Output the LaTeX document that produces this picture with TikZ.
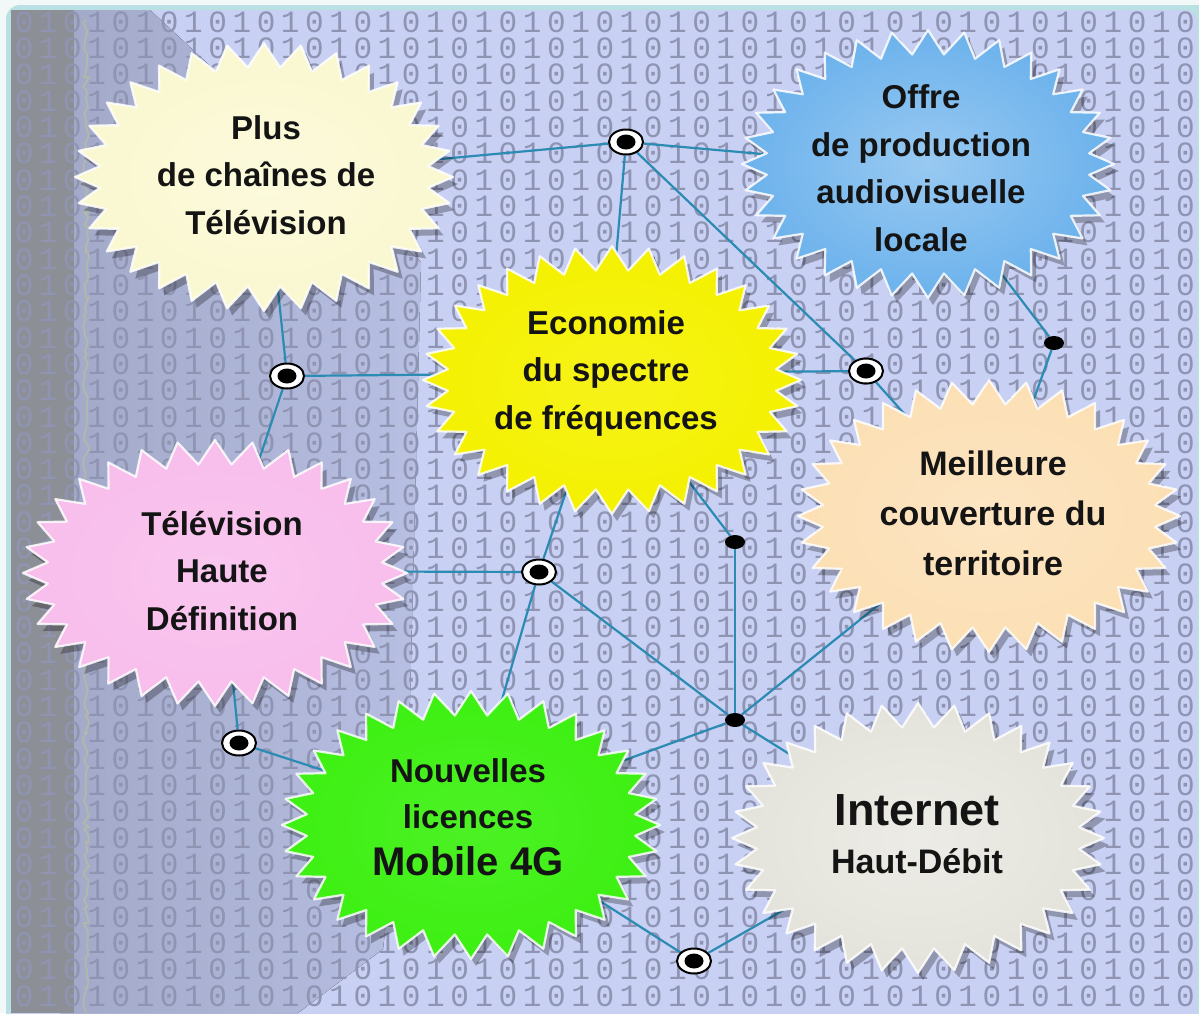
\documentclass[tikz,border=0pt]{standalone}
\usepackage{fontspec}
\setmainfont{Liberation Sans}
\newfontfamily\labfont{Liberation Sans Bold}
\newfontfamily\digfont{Liberation Mono}
\usetikzlibrary{shapes.geometric,decorations.pathmorphing}
\pgfdeclarelayer{back}
\pgfdeclarelayer{links}
\pgfdeclarelayer{bursts}
\pgfsetlayers{back,links,bursts,main}

\definecolor{cOuter}{HTML}{F2F8F8}
\definecolor{cFrame}{HTML}{B9E0E3}
\definecolor{cLav}{HTML}{C8D0F3}
\definecolor{cDarkL}{HTML}{A2A9C8}
\definecolor{cDarkR}{HTML}{B7BFE3}
\definecolor{cBand}{HTML}{8D8F97}
\definecolor{cSquig}{HTML}{C9CC7A}
\definecolor{cDig}{HTML}{8F94B2}
\definecolor{cLink}{HTML}{2C8BB3}
\definecolor{cCream}{HTML}{FAF8D0}
\definecolor{cSky}{HTML}{6CB2EC}
\definecolor{cYel}{HTML}{F5F100}
\definecolor{cPeach}{HTML}{FCDFB4}
\definecolor{cPink}{HTML}{F8BDEC}
\definecolor{cLime}{HTML}{3DF012}
\definecolor{cPearl}{HTML}{E4E3DB}
\definecolor{cInk}{HTML}{141414}

\newcommand\dpair{\makebox[24.2pt]{1}\makebox[24.2pt]{0}}
\newcommand\drow{\makebox[24.2pt]{0}\dpair\dpair\dpair\dpair\dpair\dpair\dpair\dpair\dpair\dpair\dpair\dpair\dpair\dpair\dpair\dpair\dpair\dpair\dpair\dpair\dpair\dpair\dpair\dpair}

\newcommand\burst[6]{%
  \fill[black,opacity=.28,shift={(5,7)}] plot[domain=0:63,samples=64,variable=\t]
    ({#1+(#3-24*mod(round(\t),2))*cos(\t*5.625)},{#2+(#4-24*mod(round(\t),2))*sin(\t*5.625)}) -- cycle;
  \shade[inner color=#5!#6!white,outer color=#5] plot[domain=0:63,samples=64,variable=\t]
    ({#1+(#3-24*mod(round(\t),2))*cos(\t*5.625)},{#2+(#4-24*mod(round(\t),2))*sin(\t*5.625)}) -- cycle;
  \draw[white,opacity=.85,line width=2.2pt,line join=round] plot[domain=0:63,samples=64,variable=\t]
    ({#1+(#3-24*mod(round(\t),2))*cos(\t*5.625)},{#2+(#4-24*mod(round(\t),2))*sin(\t*5.625)}) -- cycle;
}

\begin{document}
\begin{tikzpicture}[x=1pt,y=-1pt,
  lab/.style={ellipse,inner sep=0pt,align=center,text=cInk,
    font=\labfont\fontsize{33}{47.5}\selectfont,minimum width=318pt,minimum height=208pt},
  tgt/.style={ellipse,draw=black,line width=2pt,fill=white,minimum width=34pt,minimum height=25pt,inner sep=0pt,
    path picture={\fill[black] (path picture bounding box.center) ellipse [x radius=9.5pt,y radius=7.5pt];}},
  blob/.style={ellipse,fill=black,minimum width=20pt,minimum height=14pt,inner sep=0pt},
  wire/.style={draw=cLink,line width=2.2pt},
  digrow/.style={inner sep=0pt,text=cDig,font=\digfont\fontsize{31}{31}\selectfont,anchor=east}]
\useasboundingbox (0,0) rectangle (1199,1013);

\begin{pgfonlayer}{back}
  \fill[cOuter] (0,0) rectangle (1199,1013);
  \fill[cFrame,rounded corners=14pt] (6,5) rectangle (1212,1040);
  \fill[cLav,rounded corners=12pt] (11,10) rectangle (1197,1040);
  \fill[left color=cDarkL,right color=cDarkR] (60,10) -- (150,10) -- (421,262) -- (410,700) -- (383,949) -- (298,1013) -- (60,1013) -- cycle;
  \fill[cBand] (11,10) rectangle (74,1013);
  \foreach \k in {0,...,37} \node[digrow] (dr\k) at (1198,22+\k*26.32) {\drow};
  \draw[cSquig,opacity=.45,line width=1.6pt,decorate,decoration={random steps,segment length=5pt,amplitude=3pt}] (86,20) -- (86,1013);
\end{pgfonlayer}

% labels
\node[lab] (chaines) at (266,175) {Plus\\de chaînes de\\Télévision};
\node[lab] (offre) at (921,168) {Offre\\de production\\audiovisuelle\\locale};
\node[lab] (eco) at (606,373) {Economie\\du spectre\\de fréquences};
\node[lab,font=\labfont\fontsize{34}{50}\selectfont] (couv) at (993,513) {Meilleure\\couverture du\\territoire};
\node[lab] (tvhd) at (222,571) {Télévision\\Haute\\Définition};
\node[lab,font=\labfont\fontsize{33}{46.5}\selectfont] (mobile) at (468,817) {Nouvelles\\licences\\{\fontsize{40}{46.5}\selectfont Mobile 4G}};
\node[lab,font=\labfont\fontsize{34}{48}\selectfont] (internet) at (917,834) {{\fontsize{45}{48}\selectfont Internet}\\Haut-Débit};

% starbursts
\begin{pgfonlayer}{bursts}
  \burst{264}{177}{189}{134}{cCream}{75}
  \burst{928}{164}{186}{134}{cSky}{70}
  \burst{612}{380}{189}{134}{cYel}{90}
  \burst{989}{516}{191}{136}{cPeach}{80}
  \burst{215}{573}{192}{133}{cPink}{85}
  \burst{471}{825}{189}{134}{cLime}{92}
  \burst{918}{838}{186}{135}{cPearl}{70}
\end{pgfonlayer}

% junctions
\node[tgt] (j1) at (626,142) {};
\node[tgt] (j2) at (287,376) {};
\node[tgt] (j3) at (866,371) {};
\node[blob] (j4) at (1054,343) {};
\node[tgt] (j5) at (539,572) {};
\node[blob] (j6) at (735,542) {};
\node[blob] (j7) at (735,720) {};
\node[tgt] (j8) at (239,743) {};
\node[tgt] (j9) at (694,961) {};

% connectors
\begin{pgfonlayer}{links}
  \draw[wire] (j1) -- (chaines);
  \draw[wire] (j1) -- (offre);
  \draw[wire] (j1) -- (eco);
  \draw[wire] (j1) -- (j3);
  \draw[wire] (j3) -- (eco);
  \draw[wire] (j3) -- (couv);
  \draw[wire] (offre) -- (j4);
  \draw[wire] (j4) -- (couv);
  \draw[wire] (j2) -- (chaines);
  \draw[wire] (j2) -- (eco);
  \draw[wire] (j2) -- (tvhd);
  \draw[wire] (j5) -- (tvhd);
  \draw[wire] (j5) -- (eco);
  \draw[wire] (j5) -- (mobile);
  \draw[wire] (j5) -- (j7);
  \draw[wire] (j6) -- (eco);
  \draw[wire] (j6) -- (j7);
  \draw[wire] (j7) -- (couv);
  \draw[wire] (j7) -- (mobile);
  \draw[wire] (j7) -- (internet);
  \draw[wire] (j8) -- (tvhd);
  \draw[wire] (j8) -- (mobile);
  \draw[wire] (j9) -- (mobile);
  \draw[wire] (j9) -- (internet);
\end{pgfonlayer}
\end{tikzpicture}
\end{document}
